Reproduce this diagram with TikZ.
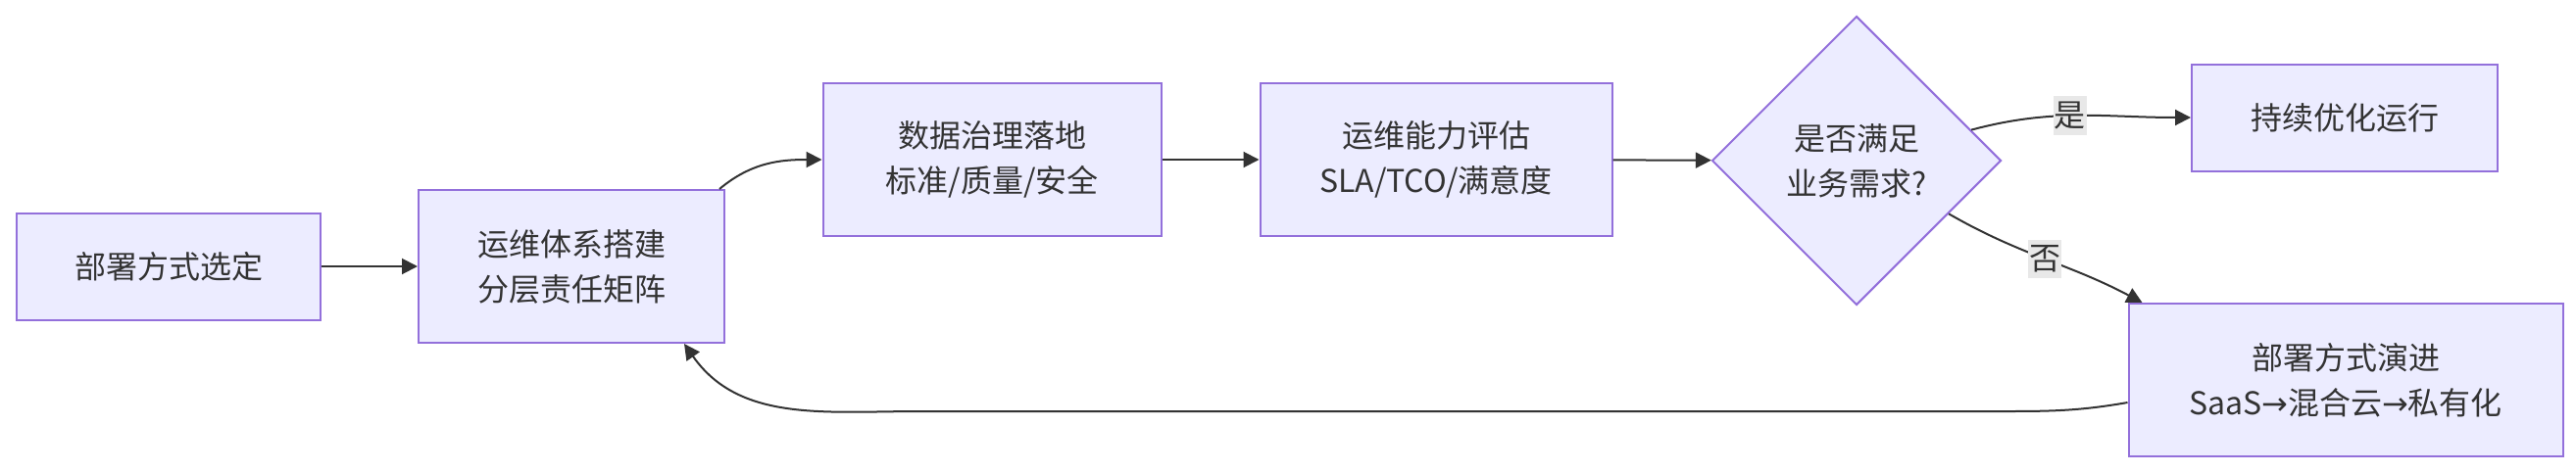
\documentclass[tikz,border=0pt]{standalone}
\usepackage{fontspec}
\setmainfont{Noto Sans CJK SC}
\newfontfamily\arrowfont{DejaVu Sans}
\usetikzlibrary{shapes.geometric,arrows.meta}
\definecolor{boxfill}{HTML}{ECECFF}
\definecolor{boxline}{HTML}{9370DB}
\definecolor{inkgray}{HTML}{333333}
\definecolor{lblfill}{HTML}{E8E8E8}

\begin{document}
\begin{tikzpicture}[x=0.5pt, y=-0.5pt,
    box/.style={draw=boxline, fill=boxfill, line width=1pt, text=inkgray, align=center, inner sep=0pt, font=\fontsize{16pt}{23pt}\selectfont},
    link/.style={draw=inkgray, line width=1pt, -{Triangle[length=8pt,width=8pt]}},
    lbl/.style={fill=lblfill, text=inkgray, inner xsep=0.5pt, inner ysep=3pt, font=\fontsize{16pt}{20pt}\selectfont}]
    \useasboundingbox (0,0) rectangle (2628,482);

    \node[box, minimum width=155pt, minimum height=54.5pt] (A) at (172,272) {部署方式选定};
    \node[box, minimum width=156pt, minimum height=78pt] (B) at (583,272) {运维体系搭建\\分层责任矩阵};
    \node[box, minimum width=172.5pt, minimum height=78pt] (C) at (1012,163) {数据治理落地\\标准/质量/安全};
    \node[box, minimum width=179.5pt, minimum height=78pt] (D) at (1465,163) {运维能力评估\\SLA/TCO/满意度};
    \node[box, diamond, aspect=1, minimum width=147.5pt, minimum height=147.5pt] (E) at (1894,164) {是否满足\\业务需求?};
    \node[box, minimum width=156pt, minimum height=54.5pt] (F) at (2392,120) {持续优化运行};
    \node[box, minimum width=221.5pt, minimum height=78pt] (G) at (2393,388) {部署方式演进\\SaaS{\arrowfont →}混合云{\arrowfont →}私有化};

    \coordinate (g1) at (2030,420);
    \coordinate (g2) at (940,420);

    \draw[link] (A) -- (B);
    \draw[link] ([xshift=-3pt]B.north east) to[out=40,in=180] (C);
    \draw[link] (C) -- (D);
    \draw[link] (D) -- (E);
    \draw[link] (E) to[out=15,in=180] node[lbl, pos=0.45] {是} (F);
    \draw[link] (E) to[out=-30,in=152] node[lbl, pos=0.5] {否} ([xshift=7.5pt]G.north west);
    \draw[link] ([yshift=-11.5pt]G.west) to[out=190,in=0] (g1) -- (g2) to[out=180,in=-55] ([xshift=-21pt]B.south east);
\end{tikzpicture}
\end{document}
